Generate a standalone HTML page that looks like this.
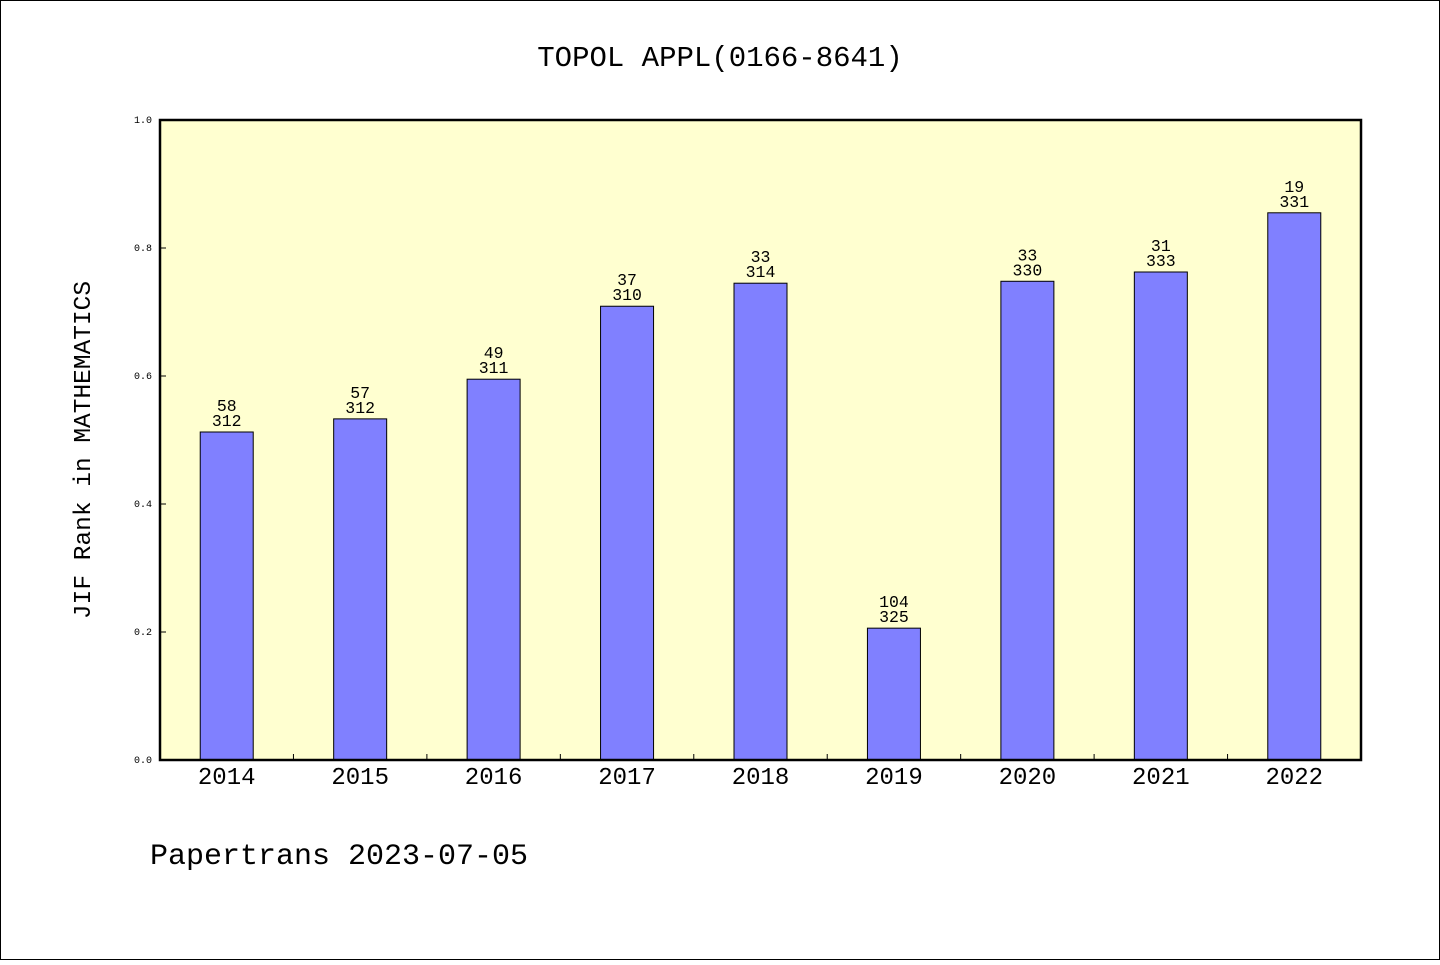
<!DOCTYPE html>
<html><head><meta charset="utf-8"><style>
html,body{margin:0;padding:0;background:#fff}
svg text{font-family:"Liberation Mono","WenQuanYi Zen Hei",monospace;fill:#000}
</style></head><body>
<svg id="chart" width="1440" height="960" xmlns="http://www.w3.org/2000/svg">
<rect x="0.5" y="0.5" width="1439" height="959" fill="#fff" stroke="#000"/>
<text x="720" y="66" font-size="29" text-anchor="middle">TOPOL APPL(0166-8641)</text>
<rect x="160" y="120" width="1201" height="640" fill="#ffffd0"/>
<g id="bars"></g>
<rect x="160" y="120" width="1201" height="640" fill="none" stroke="#000" stroke-width="2.5"/>
<text transform="translate(90,450) rotate(-90)" font-size="24.5" text-anchor="middle">JIF Rank in MATHEMATICS</text>
<text x="150" y="864" font-size="30">Papertrans 2023-07-05</text>
</svg>
<script>
const categories=["2014","2015","2016","2017","2018","2019","2020","2021","2022"];
const values=[0.5125,0.533,0.595,0.709,0.745,0.206,0.748,0.7625,0.855];
const ranks=["58","57","49","37","33","104","33","31","19"];
const totals=["312","312","311","310","314","325","330","333","331"];
const yTicks=["0.0","0.2","0.4","0.6","0.8","1.0"];
const NS="http://www.w3.org/2000/svg";
const X0=160,W=1201,Y0=760,H=640;
const band=W/categories.length;
const x=i=>X0+band*(i+0.5);
const y=v=>Y0-v*H;
const svg=document.getElementById('chart');
const g=document.getElementById('bars');
function mk(tag,attrs,parent){const e=document.createElementNS(NS,tag);for(const k in attrs)e.setAttribute(k,attrs[k]);(parent||svg).appendChild(e);return e;}
yTicks.forEach(t=>{
  const v=parseFloat(t);
  const tk=mk('line',{x1:X0,x2:X0+6,y1:y(v),y2:y(v),stroke:'#000','stroke-width':1});
  
  
  const lb=mk('text',{x:X0-8,y:y(v)+3,'font-size':10,'text-anchor':'end'});
  lb.textContent=t;
  
  
});
categories.forEach((c,i)=>{
  const bw=53;
  const b=mk('rect',{x:x(i)-bw/2,y:y(values[i]),width:bw,height:Y0-y(values[i]),fill:'#8080ff',stroke:'#000','stroke-width':1},g);
  
  
  const r=mk('text',{x:x(i),y:y(values[i])-21,'font-size':16.5,'text-anchor':'middle'});
  r.textContent=ranks[i];
  
  
  const t=mk('text',{x:x(i),y:y(values[i])-6,'font-size':16.5,'text-anchor':'middle'});
  t.textContent=totals[i];
  
  
  const xl=mk('text',{x:x(i),y:784,'font-size':24,'text-anchor':'middle'});
  xl.textContent=c;
  
  
  if(i>0){
    const tk=mk('line',{x1:X0+band*i,x2:X0+band*i,y1:Y0,y2:Y0-6,stroke:'#000','stroke-width':1});
    
    
  }
});
</script>
</body></html>
